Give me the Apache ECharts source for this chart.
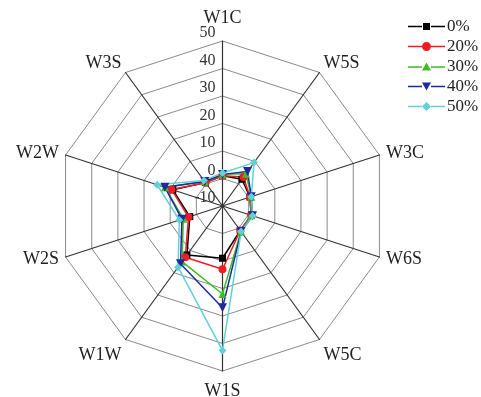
<!DOCTYPE html>
<html><head><meta charset="utf-8">
<script src="https://cdn.jsdelivr.net/npm/echarts@6/dist/echarts.min.js"></script>
<style>html,body{margin:0;padding:0;background:#fff}#c{width:481px;height:397px}</style>
</head><body><div id="c"></div>
<script>
// Indicators in ECharts order (counter-clockwise from the top)
const categories = ['W1C','W3S','W2W','W2S','W1W','W1S','W5C','W6S','W3C','W5S'];
const seriesNames = ['0%','20%','30%','40%','50%'];
const s0  = [1.0, 0.5,  9.0, 2.5, 12.0,  9.0, 1.0, 1.0, 0.5, 2.0];
const s20 = [1.0, 0.5,  9.5, 3.0, 13.0, 13.0, 1.0, 1.0, 0.5, 3.0];
const s30 = [1.5, 1.0, 12.0, 5.0, 15.0, 22.0, 1.5, 1.0, 1.0, 4.5];
const s40 = [1.5, 1.0, 12.0, 5.5, 16.0, 27.0, 1.5, 1.5, 1.0, 5.5];
const s50 = [2.0, 1.5, 15.0, 6.5, 17.5, 42.5, 1.5, 1.5, 1.0, 9.5];
const tickLabels = ['-10','0','10','20','30','40','50'];
const axisMin = -10, axisMax = 50, axisStep = 10;

const values = [s0, s20, s30, s40, s50];
const colors = ['#000000','#ee1c24','#3dbd1e','#1c2a9c','#62d0d8'];
const symbols = ['rect','circle','triangle','path://M0,0 L10,0 L5,9 Z','diamond'];
const symSizes = [7, 8, 8, 9, 8];
const serif = '"Liberation Serif","DejaVu Serif",serif';

// legend icons: line with marker in a 37 x 14 box
const lineL = 'M0,6.3 H14 V7.7 H0 Z ';
const lineR = 'M23,6.3 H37 V7.7 H23 Z ';
const legendIcons = [
  'path://' + lineL + lineR + 'M15,3.5 H22 V10.5 H15 Z',
  'path://' + lineL + lineR + 'M14,7 A4.5,4.5 0 1,1 23,7 A4.5,4.5 0 1,1 14,7 Z',
  'path://' + lineL + lineR + 'M18.5,2.5 L23,10.5 L14,10.5 Z',
  'path://' + lineL + lineR + 'M14,3 L23,3 L18.5,11 Z',
  'path://' + lineL + lineR + 'M18.5,2.5 L23,7 L18.5,11.5 L14,7 Z'
];

// per-indicator label styles (extra offset away from the chart)
const nameStyle = {W1C: 'top', W3S: 'up', W5S: 'up', W1W: 'down', W5C: 'down', W1S: 'bottom'};
const base = {fontFamily: serif, fontSize: 18, color: '#222'};

const chart = echarts.init(document.getElementById('c'));
chart.setOption({
  animation: false,
  backgroundColor: '#fff',
  legend: {
    orient: 'vertical', left: 403, top: 13, itemGap: 3,
    itemWidth: 37, itemHeight: 14,
    textStyle: {fontFamily: serif, fontSize: 17, color: '#222', padding:[0,0,0,-3], lineHeight: 14},
    data: seriesNames.map((n, i) => ({name: n, icon: legendIcons[i]}))
  },
  radar: {
    center: [222.5, 206], radius: 165, startAngle: 90, splitNumber: 6,
    indicator: categories.map(n => ({name: n, min: axisMin, max: axisMax})),
    shape: 'polygon',
    nameGap: 7,
    axisName: {
      color: '#222', fontFamily: serif, fontSize: 18,
      formatter: (v) => nameStyle[v] ? '{' + nameStyle[v] + '|' + v + '}' : v,
      rich: {
        top: Object.assign({padding: [0,0,7,0]}, base),
        up: Object.assign({padding: [0,0,8,0]}, base),
        down: Object.assign({padding: [21,0,0,0]}, base),
        bottom: Object.assign({padding: [4,0,0,0]}, base)
      }
    },
    axisLine: {lineStyle: {color: '#333', width: 1.2}},
    splitLine: {lineStyle: {color: '#8a8a8a', width: 1}},
    splitArea: {show: false},
    axisLabel: {show: false}
  },
  polar: {center: [222.5, 206], radius: 165},
  angleAxis: {startAngle: 90, show: false, min: 0, max: 360},
  radiusAxis: {
    min: axisMin, max: axisMax, interval: axisStep,
    axisLine: {show: false}, axisTick: {show: false}, splitLine: {show: false},
    axisLabel: {show: true, fontFamily: serif, fontSize: 16, color: '#333', margin: 7,
      verticalAlign: 'bottom',
      formatter: (v) => tickLabels[Math.round((v - axisMin) / axisStep)]}
  },
  series: seriesNames.map((name, i) => ({
    type: 'radar', name: name,
    symbol: symbols[i], symbolSize: symSizes[i],
    itemStyle: {color: colors[i]},
    lineStyle: {color: colors[i], width: 1.5},
    data: [{value: values[i], name: name}]
  }))
});
</script></body></html>
